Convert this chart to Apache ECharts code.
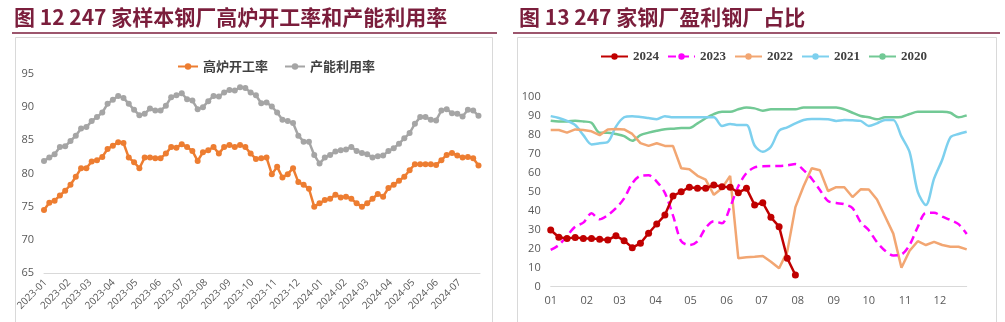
<!DOCTYPE html>
<html><head><meta charset="utf-8">
<script src="https://cdn.jsdelivr.net/npm/echarts@6/dist/echarts.min.js"></script>
<style>html,body{margin:0;padding:0;background:#fff}#c{width:1005px;height:322px}</style>
</head><body><div id="c"></div>
<script>
// ---------- Titles ----------
const leftTitle = '图 12 247 家样本钢厂高炉开工率和产能利用率';
const rightTitle = '图 13 247 家钢厂盈利钢厂占比';

// ---------- Left chart data (weekly, Fridays) ----------
const leftFirstWeek = [2022, 12, 30];
const leftLastDay = [2024, 7, 28];
const leftMonthLabels = ['2023-01','2023-02','2023-03','2023-04','2023-05','2023-06','2023-07','2023-08','2023-09','2023-10','2023-11','2023-12','2024-01','2024-02','2024-03','2024-04','2024-05','2024-06','2024-07'];
const leftSeriesNames = ['高炉开工率', '产能利用率'];
const blastFurnaceRate = [74.5,75.6,75.9,76.7,77.4,78.3,79.5,80.8,80.8,81.8,82.0,82.5,83.7,84.2,84.7,84.6,82.4,81.7,80.8,82.4,82.4,82.3,82.3,83.0,84.0,83.9,84.4,84.0,83.4,81.9,83.2,83.5,84.0,83.0,84.0,84.3,84.0,84.3,84.0,83.0,
  82.2,82.3,82.4,79.9,81.0,79.4,79.9,80.8,78.7,78.3,77.7,75.0,75.5,76.0,76.2,76.8,76.4,76.5,76.2,75.5,75.0,75.5,76.2,76.9,76.5,77.8,78.3,78.9,79.5,80.5,81.4,81.4,81.4,81.4,81.3,82.0,82.8,83.1,82.7,82.4,82.5,82.3,81.2];
const capacityUtilRate = [81.9,82.4,82.9,84.0,84.1,84.9,85.7,86.8,87.0,87.9,88.5,89.2,90.5,91.1,91.7,91.4,90.5,89.6,88.8,89.0,89.8,89.5,89.5,90.2,91.5,91.8,92.1,91.2,91.0,89.7,90.0,90.9,91.7,91.6,92.2,92.6,92.5,
  93.0,92.9,92.2,91.8,90.6,90.7,90.1,89.2,88.1,87.9,87.6,85.7,84.8,84.8,82.8,81.5,82.4,82.8,83.3,83.5,83.6,84.0,83.4,83.1,82.9,82.4,82.6,82.7,83.4,83.8,84.5,85.3,86.1,87.5,88.5,88.5,88.1,88.0,89.5,89.7,89.1,89.0,88.6,89.6,89.5,88.7];

// ---------- Right chart data (weekly, by week of year) ----------
const rightMonthLabels = ['01','02','03','04','05','06','07','08','09','10','11','12'];
const rightMonthStartDays = [0,31,59,90,120,151,181,212,243,273,304,334];
const rightYears = ['2024','2023','2022','2021','2020'];
const profit2024 = [29.9,26.1,25.5,25.9,25.5,25.5,25.0,24.6,26.9,24.3,20.6,22.9,28.2,33.1,37.8,47.9,50.1,52.5,51.9,51.9,53.7,52.8,52.5,49.6,51.9,43.1,44.3,36.6,31.7,15.0,6.2];
const profit2023 = [19.4,22.0,26.8,31.7,33.8,38.7,35.6,37.8,41.4,46.6,54.6,58.5,58.8,55.5,49.5,37.5,24.0,22.0,24.0,31.0,34.5,33.5,42.0,53.0,60.0,63.0,63.5,63.7,63.7,64.0,64.7,61.5,57.0,51.0,45.2,44.2,43.5,41.5,34.0,29.8,23.5,19.0,16.5,17.0,22.0,31.5,39.0,39.0,37.0,35.2,33.0,27.8];
const profit2022 = [82.7,82.7,81.3,83.0,82.7,82.0,80.0,83.0,83.2,83.0,80.6,75.8,74.3,75.7,74.3,74.2,62.5,62.0,58.5,56.5,48.5,52.0,58.5,15.0,15.5,15.8,16.2,13.2,9.7,18.5,42.0,53.0,62.5,61.5,50.5,52.5,52.5,47.3,51.4,51.3,46.0,37.0,28.0,10.0,19.0,24.0,22.0,23.7,22.0,21.1,21.1,19.7];
const profit2021 = [90.0,89.0,87.5,85.3,80.0,75.1,75.7,76.3,84.5,89.4,90.0,89.6,89.0,88.4,90.0,89.4,89.4,89.4,89.4,89.4,89.4,84.8,85.9,85.3,85.3,74.5,71.2,73.9,82.3,84.1,86.2,88.0,88.5,88.5,88.4,87.5,88.0,87.8,87.5,84.8,86.2,88.0,88.0,79.3,71.0,50.0,43.1,57.0,67.0,78.8,80.6,81.8];
const profit2020 = [87.6,87.2,87.2,87.6,87.2,86.5,81.3,81.3,80.6,79.5,77.0,80.0,81.3,82.3,83.1,83.4,83.7,83.7,86.2,88.9,91.1,92.3,92.3,93.6,94.6,94.1,92.9,93.6,93.6,93.6,93.6,94.6,94.6,94.6,94.6,94.6,93.6,91.8,90.1,89.4,88.3,89.4,89.4,89.6,91.1,92.3,92.3,92.3,92.3,91.8,89.4,90.4];

// ---------- helpers ----------
const DAY = 86400000;
const ts = (y,m,d) => Date.UTC(y, m-1, d);
const leftStart = ts(leftFirstWeek[0], leftFirstWeek[1], leftFirstWeek[2]);
const leftEnd = ts(leftLastDay[0], leftLastDay[1], leftLastDay[2]);
const leftWeekX = arr => arr.map((v,i)=>[leftStart + i*7*DAY, v]);
const leftMonthValues = leftMonthLabels.map(s=>{const p=s.split('-'); return ts(+p[0], +p[1], 1);});
const leftLabelMap = {}; leftMonthValues.forEach((v,i)=>{leftLabelMap[v]=leftMonthLabels[i];});
const weekX = arr => arr.map((v,i)=>[i*7, v]);
const rightLabelMap = {}; rightMonthStartDays.forEach((v,i)=>{rightLabelMap[v]=rightMonthLabels[i];});

const maroon = '#7B1E3C';
const axisTxt = '#595959';
const chart = echarts.init(document.getElementById('c'), null, {renderer:'canvas'});

chart.setOption({
  backgroundColor: '#ffffff',
  animation: false,
  graphic: [
    {type:'text', left:14, top:7, style:{text:leftTitle, fontSize:21, fontWeight:'bold', fontFamily:'"Noto Sans CJK SC"', fill:maroon}},
    {type:'text', left:519, top:7, style:{text:rightTitle, fontSize:21, fontWeight:'bold', fontFamily:'"Noto Sans CJK SC"', fill:maroon}},
    {type:'line', shape:{x1:12,y1:33,x2:497,y2:33}, style:{stroke:maroon, lineWidth:1.5}},
    {type:'line', shape:{x1:513,y1:33,x2:1000,y2:33}, style:{stroke:maroon, lineWidth:1.5}},
    {type:'rect', shape:{x:15.5,y:37.5,width:477,height:300}, style:{fill:'none', stroke:'#D9D9D9', lineWidth:1}},
    {type:'rect', shape:{x:517.5,y:37.5,width:479,height:300}, style:{fill:'none', stroke:'#D9D9D9', lineWidth:1}}
  ],
  legend: [
    {left:172, top:55, itemWidth:20, itemHeight:8, itemGap:16, data:leftSeriesNames,
     textStyle:{fontSize:13, color:'#404040', fontFamily:'"Noto Sans CJK SC"', fontWeight:'bold'}},
    {left:595, top:45, itemWidth:27, itemHeight:8, itemGap:8, data:rightYears,
     textStyle:{fontSize:13, color:'#404040', fontFamily:'"Liberation Serif"', fontWeight:'bold'}}
  ],
  grid: [
    {left:44, top:74, width:436, height:199},
    {left:550.7, top:97.2, width:416, height:189.5}
  ],
  xAxis: [
    {gridIndex:0, type:'value', min:leftStart, max:leftEnd,
     axisLine:{show:true, lineStyle:{color:'#D9D9D9', width:1}}, axisTick:{show:false}, splitLine:{show:false},
     axisLabel:{customValues:leftMonthValues, rotate:45, fontSize:10, color:axisTxt, margin:8, fontFamily:'"Open Sans"',
       formatter:(v)=> leftLabelMap[v] || ''}},
    {gridIndex:1, type:'value', min:0, max:357,
     axisLine:{show:true, lineStyle:{color:'#D9D9D9', width:1}}, axisTick:{show:false}, splitLine:{show:false},
     axisLabel:{customValues:rightMonthStartDays, fontSize:11, color:axisTxt, margin:9, fontFamily:'"Open Sans"',
       formatter:(v)=> rightLabelMap[v] || ''}}
  ],
  yAxis: [
    {gridIndex:0, type:'value', min:65, max:95, interval:5,
     axisLine:{show:false}, axisTick:{show:false}, splitLine:{show:false},
     axisLabel:{fontSize:11, color:axisTxt, margin:10, fontFamily:'"Open Sans"'}},
    {gridIndex:1, type:'value', min:0, max:100, interval:10,
     axisLine:{show:false}, axisTick:{show:false}, splitLine:{show:false},
     axisLabel:{fontSize:11, color:axisTxt, margin:10, fontFamily:'"Open Sans"'}}
  ],
  series: [
    {name:leftSeriesNames[0], type:'line', xAxisIndex:0, yAxisIndex:0, data:leftWeekX(blastFurnaceRate),
     symbol:'circle', symbolSize:6, lineStyle:{width:2.5, color:'#ED7D31'}, itemStyle:{color:'#ED7D31'}},
    {name:leftSeriesNames[1], type:'line', xAxisIndex:0, yAxisIndex:0, data:leftWeekX(capacityUtilRate),
     symbol:'circle', symbolSize:6, lineStyle:{width:2.5, color:'#A5A5A5'}, itemStyle:{color:'#A5A5A5'}},

    {name:'2020', type:'line', xAxisIndex:1, yAxisIndex:1, data:weekX(profit2020), symbol:'none', smooth:0.3,
     lineStyle:{width:2.5, color:'#72C995'}, itemStyle:{color:'#72C995'}, z:2},
    {name:'2021', type:'line', xAxisIndex:1, yAxisIndex:1, data:weekX(profit2021), symbol:'none', smooth:0.3,
     lineStyle:{width:2.5, color:'#7DD0EE'}, itemStyle:{color:'#7DD0EE'}, z:3},
    {name:'2022', type:'line', xAxisIndex:1, yAxisIndex:1, data:weekX(profit2022), symbol:'none',
     lineStyle:{width:2.5, color:'#F2A672'}, itemStyle:{color:'#F2A672'}, z:4},
    {name:'2023', type:'line', xAxisIndex:1, yAxisIndex:1, data:weekX(profit2023), symbol:'none', smooth:0.3,
     lineStyle:{width:2.5, color:'#FF00FF', type:[8,5]}, itemStyle:{color:'#FF00FF'}, z:5},
    {name:'2024', type:'line', xAxisIndex:1, yAxisIndex:1, data:weekX(profit2024),
     symbol:'circle', symbolSize:7, lineStyle:{width:2.5, color:'#C00000'}, itemStyle:{color:'#C00000'}, z:6}
  ]
});
</script>
</body></html>
